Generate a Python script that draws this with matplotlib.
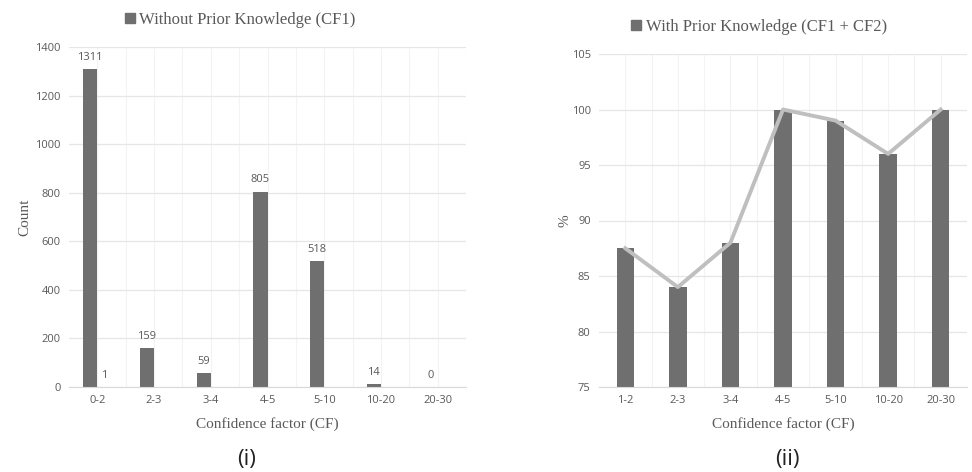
import numpy as np
import matplotlib.pyplot as plt
from matplotlib.patches import Patch

# counts per confidence-factor bin, without prior knowledge
cf1_bins = ["0-2", "2-3", "3-4", "4-5", "5-10", "10-20", "20-30"]
cf1_counts = [1311, 159, 59, 805, 518, 14, 0]
cf1_extra = [1, None, None, None, None, None, None]

# percentage per bin, with prior knowledge
cf12_bins = ["1-2", "2-3", "3-4", "4-5", "5-10", "10-20", "20-30"]
cf12_pct = [87.5, 84, 88, 100, 99, 96, 100]

bar_col = "#6f6f6f"
txt_col = "#595959"
serif = "Liberation Serif"
sans = "Open Sans"


def style_axes(ax, n):
    for s in ["top", "right", "left"]:
        ax.spines[s].set_visible(False)
    ax.spines["bottom"].set_color("#d9d9d9")
    ax.set_xlim(-0.5, n - 0.5)
    ax.tick_params(length=0, labelsize=8, labelcolor=txt_col, pad=6)
    for lab in ax.get_xticklabels() + ax.get_yticklabels():
        lab.set_fontfamily(sans)
    ax.grid(axis="y", color="#e6e6e6", linewidth=0.9)
    # faint vertical lines on centres and boundaries
    for v in np.arange(-0.5, n, 0.5)[1:]:
        ax.axvline(v, color="#f3f3f3", linewidth=0.8, zorder=0)
    ax.set_axisbelow(True)


def top_legend(ax, label, xy):
    ax.legend(handles=[Patch(color=bar_col, label=label)],
              loc="center", bbox_to_anchor=xy, bbox_transform=fig.transFigure,
              frameon=False, handlelength=0.6, handleheight=0.6, handletextpad=0.25,
              borderpad=0, prop={"family": serif, "size": 12}, labelcolor=txt_col)


fig = plt.figure(figsize=(9.72, 4.72), dpi=100)

# (i) counts
ax1 = fig.add_axes([69 / 972, 1 - 387 / 472, 397 / 972, 340 / 472])
x = np.arange(len(cf1_bins))
w = 0.25
ax1.bar(x - w / 2, cf1_counts, w, color=bar_col, zorder=2)
extra = [v if v is not None else 0 for v in cf1_extra]
ax1.bar(x + w / 2, extra, w, color=bar_col, zorder=2)
for xi, v in zip(x, cf1_counts):
    ax1.text(xi - w / 2, v + 25, str(v), ha="center", va="bottom",
             fontsize=8, color=txt_col, family=sans)
for xi, v in zip(x, cf1_extra):
    if v is not None:
        ax1.text(xi + w / 2, v + 25, str(v), ha="center", va="bottom",
                 fontsize=8, color=txt_col, family=sans)
ax1.set_ylim(0, 1400)
ax1.set_yticks(range(0, 1401, 200))
ax1.set_xticks(x)
ax1.set_xticklabels(cf1_bins)
style_axes(ax1, len(cf1_bins))
ax1.set_ylabel("Count", family=serif, fontsize=11, color=txt_col, labelpad=3)
ax1.set_xlabel("Confidence factor (CF)", family=serif, fontsize=11, color=txt_col, labelpad=8)
top_legend(ax1, "Without Prior Knowledge (CF1)", (240 / 972, 1 - 20 / 472))

# (ii) percentages
ax2 = fig.add_axes([599 / 972, 1 - 387 / 472, 368 / 972, 333 / 472])
x2 = np.arange(len(cf12_bins))
ax2.bar(x2, cf12_pct, 0.33, color=bar_col, zorder=2)
ax2.plot(x2, cf12_pct, color="#bfbfbf", linewidth=2.8, zorder=3)
ax2.set_ylim(75, 105)
ax2.set_yticks(range(75, 106, 5))
ax2.set_xticks(x2)
ax2.set_xticklabels(cf12_bins)
style_axes(ax2, len(cf12_bins))
ax2.set_ylabel("%", family=serif, fontsize=11, color=txt_col, labelpad=0)
ax2.set_xlabel("Confidence factor (CF)", family=serif, fontsize=11, color=txt_col, labelpad=8)
top_legend(ax2, "With Prior Knowledge (CF1 + CF2)", (759 / 972, 1 - 27 / 472))

fig.text(247 / 972, 1 - 459 / 472, "(i)", ha="center", va="center", fontsize=16, family=sans, color="#222222")
fig.text(787 / 972, 1 - 459 / 472, "(ii)", ha="center", va="center", fontsize=16, family=sans, color="#222222")

fig.savefig("out.png", dpi=100, facecolor="white")
